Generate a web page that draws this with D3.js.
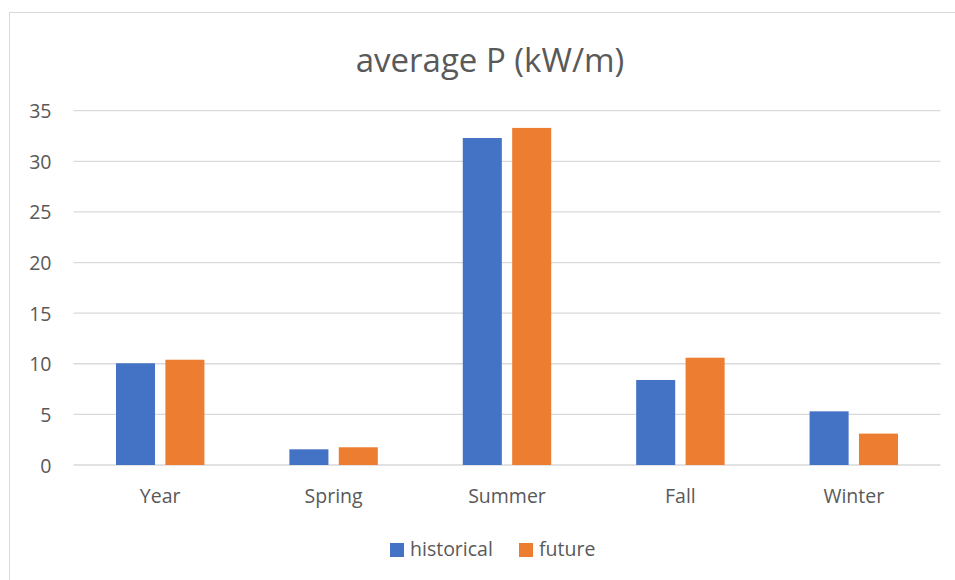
<!DOCTYPE html>
<html>
<head>
<meta charset="utf-8">
<script src="https://cdn.jsdelivr.net/npm/d3@7/dist/d3.min.js"></script>
<style>
  html, body { margin: 0; padding: 0; background: #fff; }
  svg { display: block; }
</style>
</head>
<body>
<svg id="chart" width="955" height="580"></svg>
<script>
// Average wave power per season
const categories = ["Year", "Spring", "Summer", "Fall", "Winter"];
const seriesNames = ["historical", "future"];
const historical = [10.05, 1.55, 32.3, 8.4, 5.3];
const future = [10.4, 1.75, 33.3, 10.6, 3.1];
const yTicks = [0, 5, 10, 15, 20, 25, 30, 35];
const colors = ["#4472C4", "#ED7D31"];

const values = [historical, future];
const font = "'Open Sans', 'Noto Sans', sans-serif";
const labelSize = 19.5;

const svg = d3.select("#chart");
const W = 955, H = 580;
const plotLeft = 73.5, plotRight = 940.5;

// chart frame
svg.append("rect")
  .attr("x", 9.5).attr("y", 12.5)
  .attr("width", W).attr("height", H)
  .attr("fill", "#fff")
  .attr("stroke", "#d9d9d9").attr("stroke-width", 1);

// title
svg.append("text")
  .attr("x", 490).attr("y", 72)
  .attr("text-anchor", "middle")
  .attr("font-family", font)
  .attr("font-size", 33)
  .attr("fill", "#595959")
  .text("average P (kW/m)");

const y = d3.scaleLinear().domain([0, 35]).range([465, 110.7]);
const x0 = d3.scaleBand().domain(categories).range([plotLeft, plotRight]).padding(0);
const x1 = d3.scaleBand().domain(seriesNames).range([0, x0.bandwidth()])
  .paddingInner(0.21).paddingOuter(0.86);

// gridlines
svg.append("g")
  .selectAll("line")
  .data(yTicks)
  .join("line")
  .attr("x1", plotLeft).attr("x2", plotRight)
  .attr("y1", d => y(d)).attr("y2", d => y(d))
  .attr("stroke", "#d9d9d9").attr("stroke-width", 1.3);

// y axis labels
const yAxis = d3.axisLeft(y).tickValues(yTicks).tickSize(0).tickPadding(0);
const gy = svg.append("g").attr("transform", "translate(51.5,0)").call(yAxis);
gy.select(".domain").remove();
gy.selectAll("text")
  .attr("font-family", font).attr("font-size", labelSize)
  .attr("fill", "#595959").attr("dy", "0.36em");

// x axis labels
const xAxis = d3.axisBottom(x0).tickSize(0).tickPadding(0);
const gx = svg.append("g").attr("transform", "translate(0,503)").call(xAxis);
gx.select(".domain").remove();
gx.selectAll("text")
  .attr("font-family", font).attr("font-size", labelSize)
  .attr("fill", "#595959").attr("y", 0).attr("dy", 0);

// bars
const groups = svg.append("g")
  .selectAll("g")
  .data(categories)
  .join("g")
  .attr("transform", d => `translate(${x0(d)},0)`);

groups.selectAll("rect")
  .data((c, ci) => seriesNames.map((s, si) => ({ s, si, v: values[si][ci] })))
  .join("rect")
  .attr("x", d => x1(d.s))
  .attr("width", x1.bandwidth())
  .attr("y", d => y(d.v))
  .attr("height", d => y(0) - y(d.v))
  .attr("fill", d => colors[d.si]);

// legend
const legendItems = [
  { name: "historical", x: 390, color: colors[0] },
  { name: "future", x: 519, color: colors[1] }
];
const lg = svg.append("g");
legendItems.forEach(it => {
  lg.append("rect")
    .attr("x", it.x).attr("y", 543)
    .attr("width", 14).attr("height", 14)
    .attr("fill", it.color);
  lg.append("text")
    .attr("x", it.x + 20).attr("y", 556)
    .attr("font-family", font).attr("font-size", labelSize)
    .attr("fill", "#595959")
    .text(it.name);
});
</script>
</body>
</html>
